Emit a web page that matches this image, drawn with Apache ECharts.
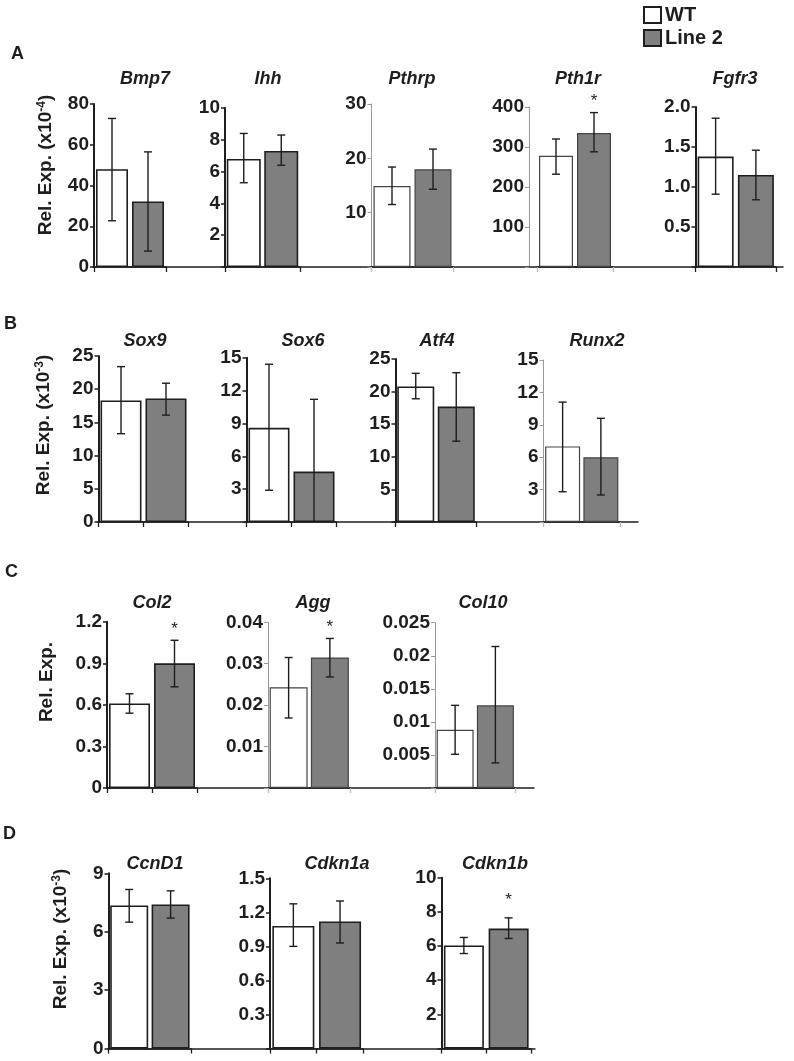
<!DOCTYPE html>
<html>
<head>
<meta charset="utf-8">
<script src="https://cdn.jsdelivr.net/npm/echarts@6/dist/echarts.min.js"></script>
<style>
html,body{margin:0;padding:0;background:#fff;}
#chart{width:794px;height:1061px;}
</style>
</head>
<body>
<div id="chart"></div>
<script>
// ---------------- DATA ----------------
const groups = ['WT', 'Line 2'];

// Panel A (x10^-4)
const genesA = ['Bmp7', 'Ihh', 'Pthrp', 'Pth1r', 'Fgfr3'];
const maxA = [80, 10, 30, 400, 2.0];
const stepA = [20, 2, 10, 100, 0.5];
const wtA = [48, 6.8, 14.9, 278, 1.38];
const wtLoA = [22.7, 5.3, 11.5, 232, 0.91];
const wtHiA = [72.9, 8.4, 18.4, 320, 1.86];
const l2A = [32.2, 7.3, 18.0, 335, 1.15];
const l2LoA = [7.8, 6.4, 14.3, 288, 0.84];
const l2HiA = [56.5, 8.3, 21.7, 386, 1.46];
const sigA = [0, 0, 0, 1, 0];

// Panel B (x10^-3)
const genesB = ['Sox9', 'Sox6', 'Atf4', 'Runx2'];
const maxB = [25, 15, 25, 15];
const stepB = [5, 3, 5, 3];
const wtB = [18.3, 8.6, 20.8, 7.0];
const wtLoB = [13.3, 2.9, 18.9, 2.8];
const wtHiB = [23.4, 14.4, 22.8, 11.1];
const l2B = [18.6, 4.6, 17.7, 6.0];
const l2LoB = [16.1, 0, 12.4, 2.5];
const l2HiB = [20.9, 11.2, 22.9, 9.6];
const sigB = [0, 0, 0, 0];

// Panel C
const genesC = ['Col2', 'Agg', 'Col10'];
const maxC = [1.2, 0.04, 0.025];
const stepC = [0.3, 0.01, 0.005];
const wtC = [0.61, 0.0243, 0.0088];
const wtLoC = [0.54, 0.0169, 0.0051];
const wtHiC = [0.68, 0.0315, 0.0125];
const l2C = [0.90, 0.0315, 0.0125];
const l2LoC = [0.73, 0.0268, 0.0038];
const l2HiC = [1.066, 0.0361, 0.0214];
const sigC = [1, 1, 0];

// Panel D (x10^-3)
const genesD = ['CcnD1', 'Cdkn1a', 'Cdkn1b'];
const maxD = [9, 1.5, 10];
const stepD = [3, 0.3, 2];
const wtD = [7.35, 1.08, 6.03];
const wtLoD = [6.49, 0.90, 5.56];
const wtHiD = [8.17, 1.275, 6.5];
const l2D = [7.40, 1.12, 7.02];
const l2LoD = [6.70, 0.93, 6.44];
const l2HiD = [8.10, 1.30, 7.65];
const sigD = [0, 0, 1];

// ---------------- LAYOUT (pixels) ----------------
const FONT = '"Liberation Sans", Arial, sans-serif';
const DARK = '#1e1e1e';
const LIGHT = '#9a9a9a';
const WT_COLOR = '#ffffff';
const L2_COLOR = '#7f7f7f';

const rows = [
  { letter: 'A', letterX: 17, letterY: 55, genes: genesA, max: maxA, step: stepA,
    wt: wtA, wtLo: wtLoA, wtHi: wtHiA, l2: l2A, l2Lo: l2LoA, l2Hi: l2HiA, sig: sigA,
    bottom: 267, baseL: 93, baseR: 783, titleY: 80,
    yName: 'Rel. Exp. (x10{sup|-4})', yNameX: 46, yNameY: 165,
    panels: [
      { left: 94, right: 166, top: 104, bw: 32, light: false, zero: true, titleX: 145 },
      { left: 225, right: 300, top: 108, bw: 34, light: false, zero: false, titleX: 268 },
      { left: 371.5, right: 453.5, top: 104, bw: 37, light: true, zero: false, titleX: 412 },
      { left: 537, right: 613, top: 107, bw: 34, light: true, zero: false, offset: 8, titleX: 578 },
      { left: 695.5, right: 776, top: 107, bw: 36, light: false, zero: false, titleX: 735, dec: 1 }
    ] },
  { letter: 'B', letterX: 10, letterY: 325, genes: genesB, max: maxB, step: stepB,
    wt: wtB, wtLo: wtLoB, wtHi: wtHiB, l2: l2B, l2Lo: l2LoB, l2Hi: l2HiB, sig: sigB,
    bottom: 522, baseL: 98, baseR: 638, titleY: 342,
    yName: 'Rel. Exp. (x10{sup|-3})', yNameX: 44, yNameY: 425,
    panels: [
      { left: 98.5, right: 188.5, top: 356, bw: 41, light: false, zero: true, titleX: 145 },
      { left: 246.5, right: 336.5, top: 357.7, bw: 41, light: false, zero: false, titleX: 303 },
      { left: 395.5, right: 476.5, top: 359, bw: 37, light: false, zero: false, titleX: 437 },
      { left: 543.5, right: 620, top: 360, bw: 35, light: true, zero: false, titleX: 597 }
    ] },
  { letter: 'C', letterX: 11, letterY: 573, genes: genesC, max: maxC, step: stepC,
    wt: wtC, wtLo: wtLoC, wtHi: wtHiC, l2: l2C, l2Lo: l2LoC, l2Hi: l2HiC, sig: sigC,
    bottom: 788, baseL: 107, baseR: 534, titleY: 604,
    yName: 'Rel. Exp.', yNameX: 47, yNameY: 682,
    panels: [
      { left: 107, right: 197, top: 621.7, bw: 41, light: false, zero: true, titleX: 152 },
      { left: 268, right: 350.5, top: 622.3, bw: 38, light: true, zero: false, titleX: 313 },
      { left: 435, right: 515.5, top: 622.7, bw: 37, light: true, zero: false, titleX: 483 }
    ] },
  { letter: 'D', letterX: 9, letterY: 835, genes: genesD, max: maxD, step: stepD,
    wt: wtD, wtLo: wtLoD, wtHi: wtHiD, l2: l2D, l2Lo: l2LoD, l2Hi: l2HiD, sig: sigD,
    bottom: 1048.5, baseL: 108, baseR: 535, titleY: 865,
    yName: 'Rel. Exp. (x10{sup|-3})', yNameX: 61, yNameY: 939,
    panels: [
      { left: 108.5, right: 191.3, top: 873.3, bw: 38, light: false, zero: true, titleX: 155 },
      { left: 270, right: 363.4, top: 878.3, bw: 42, light: false, zero: false, titleX: 337 },
      { left: 441.5, right: 531, top: 877.7, bw: 40, light: false, zero: false, titleX: 495, starGap: 18 }
    ] }
];

function fmtNum(v, dec) {
  if (dec != null) return v.toFixed(dec);
  return String(parseFloat(v.toFixed(6)));
}

function errRender(params, api) {
  const xi = api.value(0);
  const lo = api.value(1);
  const hi = api.value(2);
  const star = api.value(3);
  const gap = api.value(4);
  const x = api.coord([xi, 0])[0];
  const y0 = api.coord([xi, 0])[1];
  const yLo = api.coord([xi, lo])[1];
  const yHi = api.coord([xi, hi])[1];
  const cw = 4;
  const ls = { stroke: DARK, lineWidth: 1.4 };
  const children = [
    { type: 'line', shape: { x1: x, y1: yHi, x2: x, y2: lo > 0 ? yLo : y0 }, style: ls },
    { type: 'line', shape: { x1: x - cw, y1: yHi, x2: x + cw, y2: yHi }, style: ls }
  ];
  if (lo > 0) children.push({ type: 'line', shape: { x1: x - cw, y1: yLo, x2: x + cw, y2: yLo }, style: ls });
  if (star) {
    children.push({ type: 'text', x: x, y: yHi - gap,
      style: { text: '*', fill: DARK, font: '17px ' + FONT, textAlign: 'center', textVerticalAlign: 'middle' } });
  }
  return { type: 'group', children: children };
}

const grid = [], xAxis = [], yAxis = [], series = [], title = [], graphic = [];
let gi = 0;

rows.forEach(function (row) {
  // row baseline
  grid.push({ left: row.baseL, width: row.baseR - row.baseL, top: row.bottom - 10, height: 10 });
  xAxis.push({ gridIndex: gi, type: 'value', min: 0, max: 1, axisLine: { show: true, lineStyle: { color: DARK, width: 1.5 } },
    axisTick: { show: false }, axisLabel: { show: false }, splitLine: { show: false } });
  yAxis.push({ gridIndex: gi, type: 'value', show: false });
  gi++;

  title.push({ text: row.letter, left: row.letterX - 6, top: row.letterY - 10, padding: 0,
    textStyle: { fontFamily: FONT, fontWeight: 'bold', fontSize: 18, color: DARK } });

  graphic.push({ type: 'text', x: row.yNameX, y: row.yNameY, rotation: Math.PI / 2,
    style: { text: row.yName, font: 'bold 19px ' + FONT, fill: DARK, textAlign: 'center', textVerticalAlign: 'middle',
      rich: { sup: { fontSize: 12, fontWeight: 'bold', fontFamily: FONT, verticalAlign: 'top', lineHeight: 21, fill: DARK } } } });

  row.panels.forEach(function (p, k) {
    const axColor = p.light ? LIGHT : DARK;
    grid.push({ left: p.left, width: p.right - p.left, top: p.top, height: row.bottom - p.top });
    xAxis.push({ gridIndex: gi, type: 'category', data: groups,
      axisLine: { show: true, lineStyle: { color: DARK, width: 1.5 } },
      axisTick: { show: true, length: 5, lineStyle: { color: p.light ? '#bbb' : DARK, width: 1.3 } },
      axisLabel: { show: false } });
    yAxis.push({ gridIndex: gi, type: 'value', min: 0, max: row.max[k], interval: row.step[k], offset: p.offset || 0,
      axisLine: { show: true, lineStyle: { color: axColor, width: p.light ? 1 : 2 } },
      axisTick: { show: true, length: 4, lineStyle: { color: axColor, width: p.light ? 1 : 1.5 } },
      splitLine: { show: false },
      axisLabel: { margin: 5, fontFamily: FONT, fontWeight: 'bold', fontSize: 19, color: DARK,
        formatter: (function (zero, dec) { return function (v) { return v === 0 ? (zero ? '0' : '') : fmtNum(v, dec); }; })(p.zero, p.dec) } });
    series.push({ type: 'bar', xAxisIndex: gi, yAxisIndex: gi, barWidth: p.bw, silent: true,
      data: [
        { value: row.wt[k], itemStyle: { color: WT_COLOR, borderColor: p.light ? '#444' : DARK, borderWidth: p.light ? 1.2 : 1.6 } },
        { value: row.l2[k], itemStyle: { color: L2_COLOR, borderColor: p.light ? '#444' : DARK, borderWidth: p.light ? 1.2 : 1.6 } }
      ] });
    series.push({ type: 'custom', xAxisIndex: gi, yAxisIndex: gi, renderItem: errRender, silent: true, z: 5, clip: false,
      encode: { x: 0, y: [1, 2] },
      data: [
        [0, row.wtLo[k], row.wtHi[k], 0, 0],
        [1, row.l2Lo[k], row.l2Hi[k], row.sig[k], p.starGap || 11]
      ] });
    title.push({ text: row.genes[k], left: p.titleX, top: row.titleY - 10, textAlign: 'center', padding: 0,
      textStyle: { fontFamily: FONT, fontWeight: 'bold', fontStyle: 'italic', fontSize: 18, color: DARK } });
    gi++;
  });
});

// legend helper series (empty)
series.push({ name: 'WT', type: 'bar', xAxisIndex: 0, yAxisIndex: 0, data: [],
  itemStyle: { color: WT_COLOR, borderColor: DARK, borderWidth: 1.3 } });
series.push({ name: 'Line 2', type: 'bar', xAxisIndex: 0, yAxisIndex: 0, data: [],
  itemStyle: { color: L2_COLOR, borderColor: DARK, borderWidth: 1.3 } });

const chart = echarts.init(document.getElementById('chart'), null, { renderer: 'canvas' });
chart.setOption({
  animation: false,
  backgroundColor: '#ffffff',
  title: title,
  legend: { data: ['WT', 'Line 2'], orient: 'vertical', left: 643, top: 5, padding: 0,
    itemWidth: 17, itemHeight: 16, itemGap: 3, icon: 'rect', selectedMode: false,
    textStyle: { fontFamily: FONT, fontWeight: 'bold', fontSize: 20, color: DARK, padding: [0, 0, 0, -1] } },
  grid: grid,
  xAxis: xAxis,
  yAxis: yAxis,
  series: series,
  graphic: graphic
});
</script>
</body>
</html>
